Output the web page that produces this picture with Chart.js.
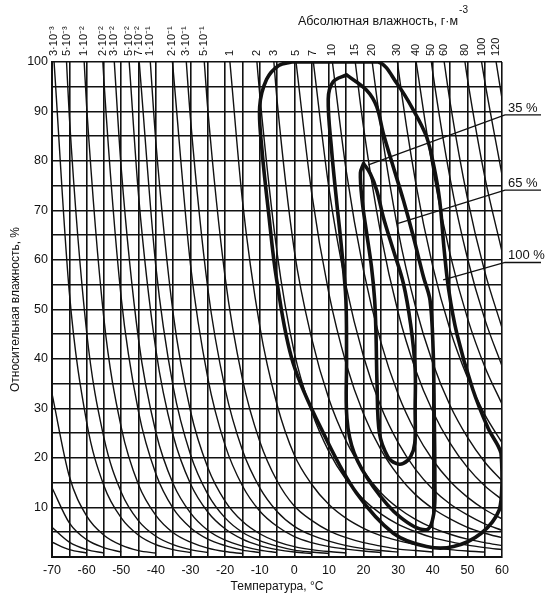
<!DOCTYPE html>
<html lang="ru">
<head>
<meta charset="utf-8">
<title>Абсолютная и относительная влажность</title>
<script src="https://cdn.jsdelivr.net/npm/chart.js@4.4.1/dist/chart.umd.min.js"></script>
<style>
  html, body { margin: 0; padding: 0; background: #fff; }
  canvas { display: block; background: #fff; }
</style>
</head>
<body>
<canvas id="chart" width="551" height="599"></canvas>
<script>
// Axis ranges and ticks
const tempMin = -70, tempMax = 60;
const rhMin = 0, rhMax = 100;

// Lines of constant absolute humidity, g/m3: [temperature °C, relative humidity %]
// (unlabelled ones enter from the left edge)
const ahExtra1 = [[-70, 3.0], [-65, 1.5], [-60, 0.8]];
const ahExtra2 = [[-70, 6.0], [-65, 3.0], [-60, 1.5], [-55, 0.8]];
const ahExtra3 = [[-70, 14], [-65, 6.9], [-60, 3.5], [-55, 1.9], [-50, 1.0]];
const ahExtra4 = [[-70, 33], [-65, 16.3], [-60, 8.3], [-55, 4.4], [-50, 2.4], [-45, 1.3], [-40, 0.8]];

const ah0003 = [[-69.4, 100], [-65, 53.5], [-60, 27.3], [-55, 14.4], [-50, 7.9], [-45, 4.4], [-40, 2.5], [-35, 1.5], [-30, 0.9]];
const ah0005 = [[-65.8, 100], [-65, 89.1], [-60, 45.5], [-55, 24.1], [-50, 13.1], [-45, 7.3], [-40, 4.2], [-35, 2.5], [-30, 1.5], [-25, 0.9]];
const ah001 = [[-60.7, 100], [-60, 91.1], [-55, 48.1], [-50, 26.2], [-45, 14.6], [-40, 8.4], [-35, 4.9], [-30, 3.0], [-25, 1.8], [-20, 1.1], [-15, 0.7]];
const ah002 = [[-55.3, 100], [-55, 96.2], [-50, 52.3], [-45, 29.3], [-40, 16.8], [-35, 9.8], [-30, 5.9], [-25, 3.6], [-20, 2.3], [-15, 1.4], [-10, 0.9]];
const ah003 = [[-52.0, 100], [-50, 78.5], [-45, 43.9], [-40, 25.2], [-35, 14.8], [-30, 8.9], [-25, 5.4], [-20, 3.4], [-15, 2.2], [-10, 1.4], [-5, 0.9]];
const ah005 = [[-47.7, 100], [-45, 73.1], [-40, 41.9], [-35, 24.6], [-30, 14.8], [-25, 9.1], [-20, 5.7], [-15, 3.6], [-10, 2.3], [-5, 1.5], [0, 1.0], [5, 0.7]];
const ah007 = [[-44.8, 100], [-40, 58.7], [-35, 34.4], [-30, 20.7], [-25, 12.7], [-20, 7.9], [-15, 5.0], [-10, 3.3], [-5, 2.2], [0, 1.4], [5, 1.0], [10, 0.7]];
const ah01 = [[-41.6, 100], [-40, 83.9], [-35, 49.2], [-30, 29.5], [-25, 18.1], [-20, 11.3], [-15, 7.2], [-10, 4.7], [-5, 3.1], [0, 2.1], [5, 1.5], [10, 1.1], [15, 0.8]];
const ah02 = [[-35.2, 100], [-35, 98.4], [-30, 59.1], [-25, 36.2], [-20, 22.6], [-15, 14.4], [-10, 9.3], [-5, 6.2], [0, 4.1], [5, 2.9], [10, 2.1], [15, 1.6], [20, 1.2], [25, 0.9]];
const ah03 = [[-31.2, 100], [-30, 88.6], [-25, 54.3], [-20, 34.0], [-15, 21.6], [-10, 14.0], [-5, 9.2], [0, 6.2], [5, 4.4], [10, 3.2], [15, 2.3], [20, 1.7], [25, 1.3], [30, 1.0]];
const ah05 = [[-26.0, 100], [-25, 90.5], [-20, 56.6], [-15, 36.0], [-10, 23.4], [-5, 15.4], [0, 10.3], [5, 7.4], [10, 5.3], [15, 3.9], [20, 2.9], [25, 2.2], [30, 1.6], [35, 1.3], [40, 1.0]];
const ah1 = [[-18.6, 100], [-15, 72.1], [-10, 46.7], [-5, 30.8], [0, 20.6], [5, 14.7], [10, 10.6], [15, 7.8], [20, 5.8], [25, 4.3], [30, 3.3], [35, 2.5], [40, 2.0], [45, 1.5], [50, 1.2], [55, 1.0]];
const ah2 = [[-10.8, 100], [-10, 93.5], [-5, 61.6], [0, 41.3], [5, 29.4], [10, 21.3], [15, 15.6], [20, 11.6], [25, 8.7], [30, 6.6], [35, 5.1], [40, 3.9], [45, 3.1], [50, 2.4], [55, 1.9], [60, 1.5]];
const ah3 = [[-5.9, 100], [-5, 92.4], [0, 61.9], [5, 44.2], [10, 31.9], [15, 23.4], [20, 17.4], [25, 13.0], [30, 9.9], [35, 7.6], [40, 5.9], [45, 4.6], [50, 3.6], [55, 2.9], [60, 2.3]];
const ah5 = [[0.5, 100], [5, 73.6], [10, 53.2], [15, 39.0], [20, 28.9], [25, 21.7], [30, 16.5], [35, 12.6], [40, 9.8], [45, 7.7], [50, 6.0], [55, 4.8], [60, 3.9]];
const ah7 = [[5.5, 100], [10, 74.5], [15, 54.6], [20, 40.5], [25, 30.4], [30, 23.1], [35, 17.7], [40, 13.7], [45, 10.7], [50, 8.5], [55, 6.7], [60, 5.4]];
const ah10 = [[11.0, 100], [15, 78.0], [20, 57.9], [25, 43.4], [30, 32.9], [35, 25.3], [40, 19.6], [45, 15.3], [50, 12.1], [55, 9.6], [60, 7.7]];
const ah15 = [[17.6, 100], [20, 86.8], [25, 65.2], [30, 49.4], [35, 37.9], [40, 29.4], [45, 23.0], [50, 18.1], [55, 14.4], [60, 11.6]];
const ah20 = [[22.5, 100], [25, 86.9], [30, 65.9], [35, 50.6], [40, 39.2], [45, 30.6], [50, 24.2], [55, 19.2], [60, 15.4]];
const ah30 = [[29.8, 100], [30, 98.8], [35, 75.9], [40, 58.7], [45, 45.9], [50, 36.3], [55, 28.8], [60, 23.1]];
const ah40 = [[35.2, 100], [40, 78.3], [45, 61.2], [50, 48.3], [55, 38.5], [60, 30.9]];
const ah50 = [[39.6, 100], [40, 97.9], [45, 76.5], [50, 60.4], [55, 48.1], [60, 38.6]];
const ah60 = [[43.3, 100], [45, 91.9], [50, 72.5], [55, 57.7], [60, 46.3]];
const ah80 = [[49.3, 100], [50, 96.7], [55, 76.9], [60, 61.7]];
const ah100 = [[54.1, 100], [55, 96.2], [60, 77.2]];
const ah120 = [[58.3, 100], [60, 92.6]];

const ahCurves = [ah0003, ah0005, ah001, ah002, ah003, ah005, ah007, ah01, ah02, ah03, ah05,
  ah1, ah2, ah3, ah5, ah7, ah10, ah15, ah20, ah30, ah40, ah50, ah60, ah80, ah100, ah120];
const ahLabels = ['3·10⁻³', '5·10⁻³', '1·10⁻²', '2·10⁻²', '3·10⁻²', '5·10⁻²', '7·10⁻²', '1·10⁻¹', '2·10⁻¹', '3·10⁻¹', '5·10⁻¹',
  '1', '2', '3', '5', '7', '10', '15', '20', '30', '40', '50', '60', '80', '100', '120'];
const extraCurves = [ahExtra1, ahExtra2, ahExtra3, ahExtra4];

// Closed contours (probability levels)
const contour35 = [[20.0, 79.5], [21.9, 77.5], [23.8, 74.1], [25.7, 68.7], [28.6, 62], [31.5, 55.3], [33.6, 47], [34.9, 38],
  [34.9, 30], [34.8, 23], [33.6, 20.3], [31.5, 18.9], [29.4, 18.9], [27, 20.3], [24.6, 25], [23.9, 35], [23.6, 45],
  [23.2, 52], [22.3, 58.6], [20.9, 65.4], [19.6, 72], [19.1, 77.6], [20.0, 79.5]];
const contour65 = [[15.1, 97.4], [20.9, 94.3], [23.8, 91], [25.7, 85.6], [28.6, 78.8], [31.5, 72.1], [34.4, 64.7], [37.3, 56.6],
  [39.2, 51.9], [40.1, 42], [40.4, 30], [40.6, 15.5], [40.3, 8.8], [38.2, 5.5], [30.5, 8.1], [22.8, 14.2], [17.3, 21],
  [15.2, 28], [15.1, 40], [14.9, 52], [13.7, 62], [12.2, 72], [10.8, 82], [9.8, 92.5], [11.2, 96], [15.1, 97.4]];
const contour100 = [[-0.8, 100], [10, 100], [24.3, 100], [29.6, 95.7], [34.4, 90.3], [38.2, 84.9], [40.3, 79], [42, 72],
  [43.3, 62], [44.6, 54], [47, 45], [51.5, 34], [56, 26], [59.7, 21], [60, 15.5], [59.2, 9.5], [54, 4.8], [46, 2.1],
  [38.2, 2.1], [28.6, 4.8], [18, 12.9], [9.4, 23.6], [-0.3, 39.1], [-5.1, 56], [-7.5, 70], [-9.3, 82], [-10, 91],
  [-8, 96.5], [-4.5, 99.3], [-0.8, 100]];
const contours = [contour35, contour65, contour100];

// Leader labels for the contours: text, point on contour, level of the underline (RH %)
const leaderLabels = ['35 %', '65 %', '100 %'];
const leaderTargets = [[21.4, 79.2], [30.0, 67.4], [43.0, 56.0]];
const leaderLevels = [89.3, 74.1, 59.5];

const FONT = '"Liberation Sans", Arial, Helvetica, sans-serif';
const INK = '#111';

Chart.defaults.font.family = FONT;
Chart.defaults.color = INK;

function toPoints(arr) {
  return arr.map(p => ({ x: p[0], y: p[1] }));
}

const datasets = [];
contours.forEach(c => {
  datasets.push({
    data: toPoints(c),
    showLine: true,
    borderColor: INK,
    borderWidth: 3.6,
    tension: 0.35,
    borderJoinStyle: 'round',
    borderCapStyle: 'round',
    pointRadius: 0
  });
});
ahCurves.concat(extraCurves).forEach(c => {
  datasets.push({
    data: toPoints(c),
    showLine: true,
    borderColor: INK,
    borderWidth: 1.4,
    cubicInterpolationMode: 'monotone',
    pointRadius: 0
  });
});

const overlay = {
  id: 'overlay',
  afterDraw(chart) {
    const { ctx, chartArea, scales: { x, y } } = chart;
    ctx.save();
    ctx.fillStyle = INK;
    ctx.strokeStyle = INK;

    // rotated labels of the absolute humidity lines
    ctx.font = '11px ' + FONT;
    ahLabels.forEach((lab, i) => {
      const px = x.getPixelForValue(ahCurves[i][0][0]);
      ctx.save();
      ctx.translate(px, chartArea.top - 6);
      ctx.rotate(-Math.PI / 2);
      ctx.textAlign = 'left';
      ctx.textBaseline = 'middle';
      ctx.fillText(lab, 0, 0);
      ctx.restore();
    });

    // top title
    ctx.font = '12.5px ' + FONT;
    ctx.textAlign = 'left';
    ctx.textBaseline = 'alphabetic';
    const title = 'Абсолютная влажность, г·м';
    const tw = ctx.measureText(title).width;
    const tx = 378 - tw / 2;
    ctx.fillText(title, tx, 25);
    ctx.font = '10px ' + FONT;
    ctx.fillText('-3', tx + tw + 1, 13);

    // leaders
    ctx.font = '13px ' + FONT;
    ctx.lineWidth = 1.3;
    leaderLabels.forEach((lab, i) => {
      const yl = y.getPixelForValue(leaderLevels[i]);
      const x0 = chartArea.right + 3;
      ctx.beginPath();
      ctx.moveTo(x.getPixelForValue(leaderTargets[i][0]), y.getPixelForValue(leaderTargets[i][1]));
      ctx.lineTo(x0, yl);
      ctx.lineTo(x0 + 36, yl);
      ctx.stroke();
      ctx.fillText(lab, x0 + 3, yl - 3);
    });
    ctx.restore();
  }
};

new Chart(document.getElementById('chart'), {
  type: 'scatter',
  data: { datasets },
  options: {
    responsive: false,
    animation: false,
    layout: { padding: { top: 62, right: 49, left: 0, bottom: 0 } },
    plugins: { legend: { display: false }, tooltip: { enabled: false } },
    scales: {
      x: {
        type: 'linear',
        min: tempMin,
        max: tempMax,
        afterFit(scale) { scale.height = 42; },
        grid: { color: INK, lineWidth: 1.6, drawTicks: false },
        border: { color: INK, width: 2 },
        ticks: {
          stepSize: 5,
          autoSkip: false,
          maxRotation: 0,
          padding: 6,
          font: { size: 12.5 },
          callback: v => (v % 10 === 0 ? String(v) : '')
        },
        title: { display: true, text: 'Температура, °C', font: { size: 12 }, padding: { top: 0, bottom: 5 } }
      },
      y: {
        type: 'linear',
        min: rhMin,
        max: rhMax,
        afterFit(scale) { scale.width = 52; },
        grid: { color: INK, lineWidth: 1.6, drawTicks: false },
        border: { color: INK, width: 2 },
        ticks: {
          stepSize: 5,
          autoSkip: false,
          padding: 4,
          font: { size: 12.5 },
          callback: v => (v % 10 === 0 && v !== 0 ? String(v) : '')
        },
        title: { display: true, text: 'Относительная влажность, %', font: { size: 12 }, padding: { top: 8, bottom: 0 } }
      }
    }
  },
  plugins: [overlay]
});
</script>
</body>
</html>
